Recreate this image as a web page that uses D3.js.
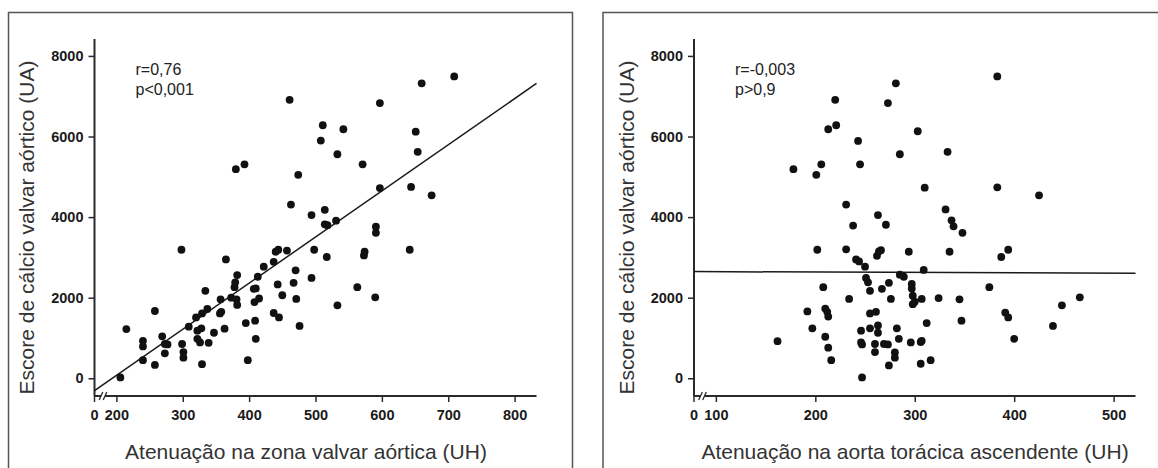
<!DOCTYPE html>
<html>
<head>
<meta charset="utf-8">
<script src="https://cdn.jsdelivr.net/npm/d3@7"></script>
<style>
  html, body { margin: 0; padding: 0; background: #fff; }
  svg { display: block; }
  .tick text { font-family: "Liberation Sans", Arial, sans-serif; font-weight: bold; font-size: 14.5px; fill: #1a1a1a; }
  .tick line { stroke: #2a2a2a; stroke-width: 1.5; }
</style>
</head>
<body>
<svg id="chart" width="1158" height="468"></svg>
<script>
// Calcium score (UA) against valve-zone attenuation (UH)
const valveX = [206,215,240,240,240,258,258,269,273,277,273,299,301,301,298,309,320,322,322,328,
  329,326,337,334,339,329,347,356,358,357,363,365,373,378,379,382,381,382,380,393,
  395,398,407,410,408,415,409,410,413,422,437,440,444,443,450,437,445,457,461,463,
  467,470,471,476,474,494,494,498,508,511,514,514,518,517,531,533,533,542,563,571,
  573,574,591,591,590,597,597,642,644,651,654,660,675,709];
const valveY = [20,1220,930,790,450,1670,330,1040,850,840,620,850,650,510,3190,1280,1510,1180,980,1240,
  1610,890,1720,2170,880,350,1130,1610,1650,1960,1230,2950,2000,2260,2380,2560,1960,1820,5190,5310,
  1370,450,2220,2230,1890,1980,1430,980,2520,2770,2890,3140,3190,2330,2060,1620,1510,3170,6910,4310,
  2370,2680,1970,1300,5050,4050,2490,3190,5900,6280,4180,3820,3800,3010,3910,5560,1810,6180,2260,5310,
  3050,3140,3760,3610,2010,6830,4720,3190,4750,6120,5620,7320,4540,7490];

// Calcium score (UA) against ascending thoracic aorta attenuation (UH)
const aortaX = [162,178,192,197,201,202,206,208,210,212,213,210,213,216,213,221,220,231,231,234,
  238,243,245,241,244,250,251,253,255,246,255,261,255,246,247,247,260,260,263,263,
  263,262,266,264,267,271,273,281,269,273,274,276,274,280,280,282,284,285,285,289,
  294,296,297,297,298,298,300,303,306,307,306,307,309,310,312,316,324,331,333,335,
  337,339,345,347,348,375,383,383,387,394,391,394,400,425,439,448,466];
const aortaY = [920,5190,1660,1240,5050,3190,5310,2260,1730,1650,1530,1030,760,450,6180,6280,6910,4310,3200,1970,
  3790,5890,5310,2950,2900,2770,2490,2380,2170,1180,1610,1650,1240,890,840,20,850,650,1310,1130,
  4050,3040,3180,3150,2220,3810,6830,7320,850,840,2370,1970,320,640,510,1240,980,5560,2570,2520,
  3140,890,2340,2230,2050,1840,1900,6130,900,930,360,1970,2690,4730,1370,450,1990,4190,5620,3140,
  3920,3770,1960,1430,3610,2260,4740,7490,3010,3190,1630,1510,980,4540,1300,1810,2010];

// Least-squares fits: [intercept, slope]
const valveFit = [-2220, 11.45];
const aortaFit = [2654, -0.092];

const yTicks = [0, 2000, 4000, 6000, 8000];
const valveTicks = [200, 300, 400, 500, 600, 700, 800];
const aortaTicks = [100, 200, 300, 400, 500];

const yTitle = "Escore de cálcio valvar aórtico (UA)";
const valveTitle = "Atenuação na zona valvar aórtica (UH)";
const aortaTitle = "Atenuação na aorta torácica ascendente (UH)";
const valveStats = ["r=0,76", "p<0,001"];
const aortaStats = ["r=-0,003", "p>0,9"];

const svg = d3.select("#chart");
svg.append("rect").attr("width", 1158).attr("height", 468).attr("fill", "#fff");

const FONT = '"Liberation Sans", Arial, sans-serif';
const INK = "#2a2a2a";

function drawPanel(p) {
  const g = svg.append("g");

  // outer frame (its lower edge lies below the visible area)
  g.append("rect")
    .attr("x", p.frame[0]).attr("y", p.frame[1])
    .attr("width", p.frame[2]).attr("height", p.frame[3])
    .attr("fill", "none").attr("stroke", "#555").attr("stroke-width", 1.5);

  const x = d3.scaleLinear().domain(p.xDomain).range(p.xRange);
  const y = d3.scaleLinear().domain([-440, 8420]).range([396, 39]);
  const x0 = p.xRange[0];
  const yBase = y.range()[0];

  // y axis
  const ya = g.append("g").attr("transform", `translate(${x0},0)`)
    .call(d3.axisLeft(y).tickValues(yTicks).tickSize(6).tickPadding(5).tickFormat(d3.format("d")));
  ya.select(".domain").remove();
  g.append("line").attr("x1", x0).attr("x2", x0).attr("y1", y.range()[1]).attr("y2", yBase)
    .attr("stroke", INK).attr("stroke-width", 2);

  // x axis with a scale break next to the origin
  const xa = g.append("g").attr("transform", `translate(0,${yBase})`)
    .call(d3.axisBottom(x).tickValues(p.ticks).tickSize(6).tickPadding(7.5));
  xa.select(".domain").remove();
  const zero = xa.append("g").attr("class", "tick").attr("transform", `translate(${x0},0)`);
  zero.append("line").attr("y2", 6);
  zero.append("text").attr("y", 13.5).attr("dy", "0.71em").attr("text-anchor", "middle").text("0");

  const b1 = x0 + 6.5, b2 = x0 + 10.5;
  g.append("line").attr("x1", x0).attr("x2", b1).attr("y1", yBase).attr("y2", yBase)
    .attr("stroke", INK).attr("stroke-width", 2);
  g.append("line").attr("x1", b2).attr("x2", p.xRange[1]).attr("y1", yBase).attr("y2", yBase)
    .attr("stroke", INK).attr("stroke-width", 2);
  [b1, b2].forEach(bx => {
    g.append("line").attr("x1", bx - 1.8).attr("x2", bx + 1.8)
      .attr("y1", yBase + 4).attr("y2", yBase - 4)
      .attr("stroke", INK).attr("stroke-width", 1.3);
  });

  // regression line across the plotted range
  const [a, bSlope] = p.fit;
  const xd = x.domain();
  g.append("line")
    .attr("x1", x(xd[0])).attr("y1", y(a + bSlope * xd[0]))
    .attr("x2", x(xd[1])).attr("y2", y(a + bSlope * xd[1]))
    .attr("stroke", "#1a1a1a").attr("stroke-width", 1.5);

  // points
  g.append("g").selectAll("circle")
    .data(d3.zip(p.xs, p.ys))
    .join("circle")
    .attr("cx", d => x(d[0])).attr("cy", d => y(d[1]))
    .attr("r", 3.9).attr("fill", "#111");

  // correlation annotation
  const ann = g.append("text").attr("font-family", FONT).attr("font-size", 16).attr("fill", "#222");
  p.stats.forEach((s, i) => {
    ann.append("tspan").attr("x", x0 + 41).attr("y", 75 + i * 20).text(s);
  });

  // axis titles
  g.append("text")
    .attr("transform", `translate(${x0 - 60.5},227.5) rotate(-90)`)
    .attr("text-anchor", "middle").attr("font-family", FONT).attr("font-size", 21).attr("fill", "#333")
    .text(yTitle);
  g.append("text")
    .attr("x", p.titleX).attr("y", 459)
    .attr("text-anchor", "middle").attr("font-family", FONT).attr("font-size", 21).attr("fill", "#333")
    .text(p.title);
}

drawPanel({
  frame: [8.5, 12.5, 564, 470],
  xDomain: [167, 833], xRange: [94.5, 536.5],
  ticks: valveTicks, xs: valveX, ys: valveY, fit: valveFit,
  stats: valveStats, title: valveTitle, titleX: 306
});

drawPanel({
  frame: [603, 12.5, 570, 470],
  xDomain: [78, 522], xRange: [694, 1135.5],
  ticks: aortaTicks, xs: aortaX, ys: aortaY, fit: aortaFit,
  stats: aortaStats, title: aortaTitle, titleX: 915
});
</script>
</body>
</html>
